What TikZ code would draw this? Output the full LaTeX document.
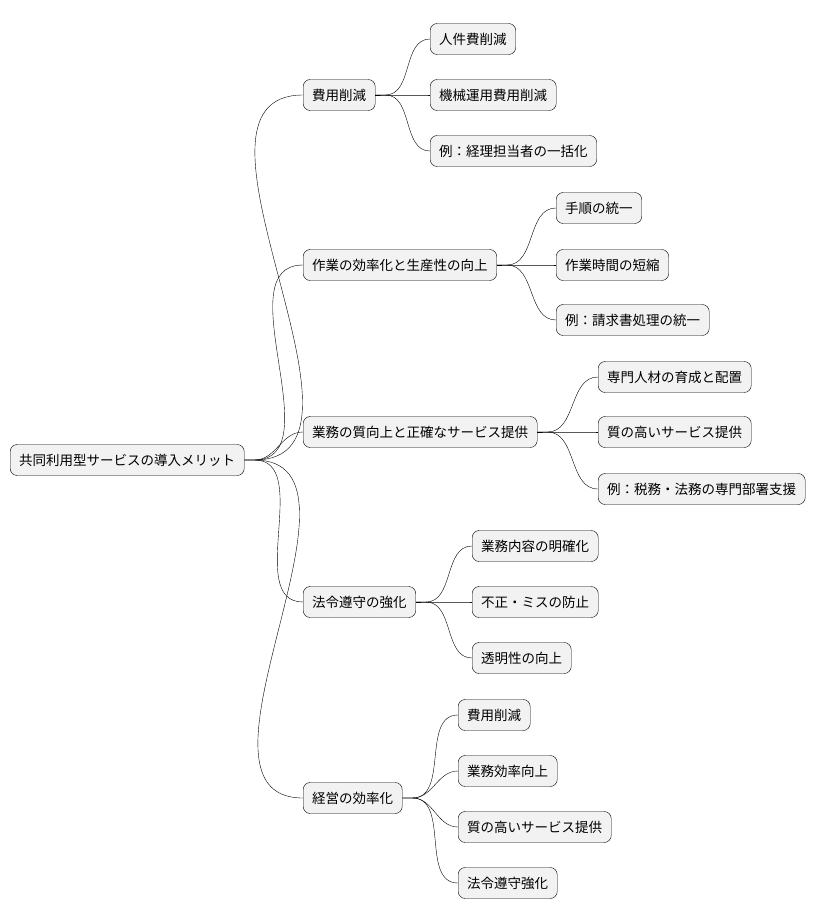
\documentclass[tikz,border=0pt]{standalone}
\usepackage{fontspec}
\setmainfont{Noto Sans CJK JP}
\begin{document}
\begin{tikzpicture}[
        x=1pt, y=-1pt,
        topic/.style={draw=black, fill=black!5, rounded corners=7pt, anchor=west,
          minimum height=31pt, inner xsep=9pt, font=\fontsize{13.5}{16}\selectfont},
        link/.style={draw=black, thin}
      ]
        \useasboundingbox (0,0) rectangle (824,921);

        \node (root) at (10, 460) [topic] {共同利用型サービスの導入メリット};

        \node (c1) at (303, 95)  [topic] {費用削減};
        \node (c2) at (303, 265) [topic] {作業の効率化と生産性の向上};
        \node (c3) at (303, 432) [topic] {業務の質向上と正確なサービス提供};
        \node (c4) at (303, 602) [topic] {法令遵守の強化};
        \node (c5) at (303, 798) [topic] {経営の効率化};

        \node (c11) at (430, 39)  [topic] {人件費削減};
        \node (c12) at (430, 95)  [topic] {機械運用費用削減};
        \node (c13) at (430, 151) [topic] {例：経理担当者の一括化};

        \node (c21) at (556, 208) [topic] {手順の統一};
        \node (c22) at (556, 265) [topic] {作業時間の短縮};
        \node (c23) at (556, 320) [topic] {例：請求書処理の統一};

        \node (c31) at (598, 377) [topic] {専門人材の育成と配置};
        \node (c32) at (598, 432) [topic] {質の高いサービス提供};
        \node (c33) at (598, 489) [topic] {例：税務・法務の専門部署支援};

        \node (c41) at (472, 546) [topic] {業務内容の明確化};
        \node (c42) at (472, 602) [topic] {不正・ミスの防止};
        \node (c43) at (472, 658) [topic] {透明性の向上};

        \node (c51) at (458, 715) [topic] {費用削減};
        \node (c52) at (458, 771) [topic] {業務効率向上};
        \node (c53) at (458, 827) [topic] {質の高いサービス提供};
        \node (c54) at (458, 883) [topic] {法令遵守強化};

        \foreach \p/\kids in {root/{c1,c2,c3,c4,c5}, c1/{c11,c12,c13}, c2/{c21,c22,c23},
            c3/{c31,c32,c33}, c4/{c41,c42,c43}, c5/{c51,c52,c53,c54}} {
          \foreach \k in \kids {
            \draw [link] (\p.east) -- ++(10,0) to[out=0, in=180] (\k.west);
          }
        }
      \end{tikzpicture}
\end{document}
